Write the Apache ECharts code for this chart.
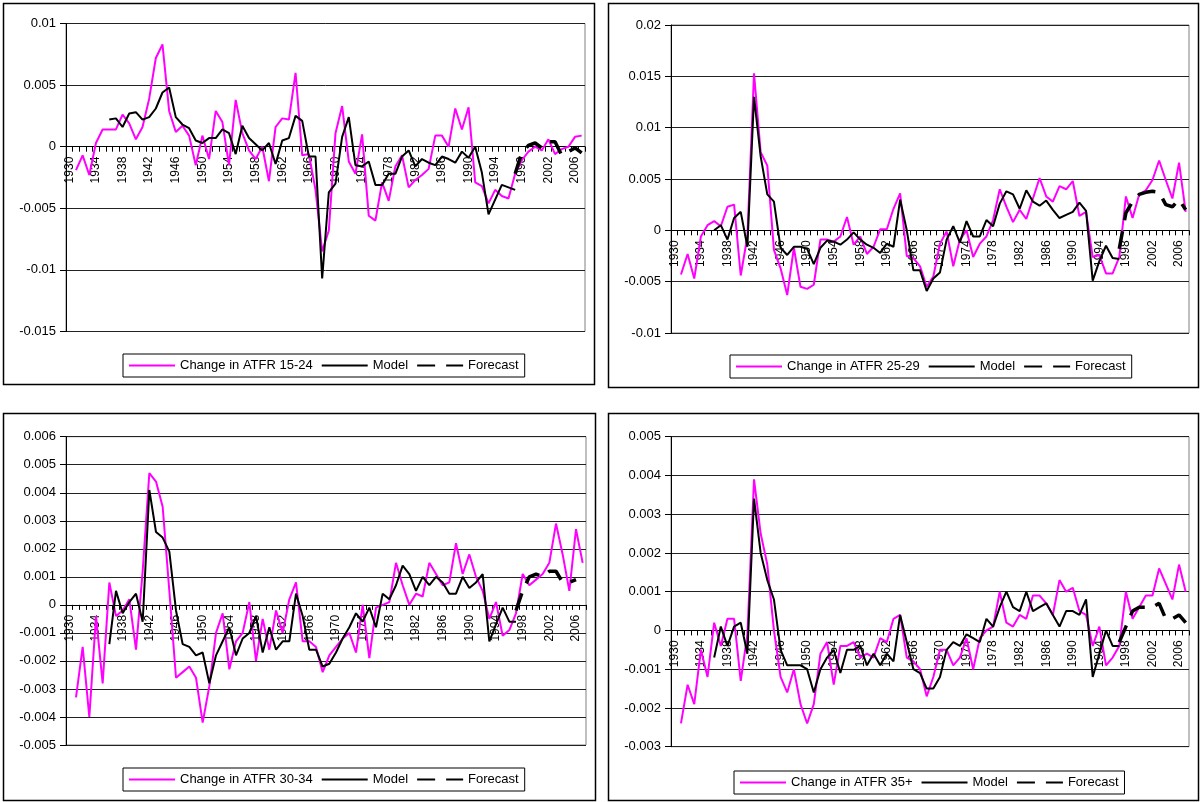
<!DOCTYPE html>
<html>
<head>
<meta charset="utf-8">
<script src="https://cdn.jsdelivr.net/npm/echarts@6/dist/echarts.min.js"></script>
<style>
  html, body { margin: 0; padding: 0; background: #fff; }
  #chart { width: 1201px; height: 802px; }
</style>
</head>
<body>
<div id="chart"></div>
<script>
// Years on the category axis
const years = [
  1930,1931,1932,1933,1934,1935,1936,1937,1938,1939,
  1940,1941,1942,1943,1944,1945,1946,1947,1948,1949,
  1950,1951,1952,1953,1954,1955,1956,1957,1958,1959,
  1960,1961,1962,1963,1964,1965,1966,1967,1968,1969,
  1970,1971,1972,1973,1974,1975,1976,1977,1978,1979,
  1980,1981,1982,1983,1984,1985,1986,1987,1988,1989,
  1990,1991,1992,1993,1994,1995,1996,1997,1998,1999,
  2000,2001,2002,2003,2004,2005,2006,2007
];

// Observed change in ATFR, 1931-2007
const change1524 = [
  -0.0019,-0.0007,-0.0023,0.0003,0.0014,0.0014,0.0014,0.0026,0.0019,
  0.0006,0.0016,0.0039,0.0072,0.0083,0.0029,0.0012,0.0017,0.0009,-0.0015,
  0.0009,-0.001,0.0029,0.002,-0.0015,0.0038,0.0011,-0.0003,-0.001,0,
  -0.0028,0.0016,0.0023,0.0022,0.006,-0.0007,-0.0006,-0.0035,-0.0085,-0.0068,
  0.0011,0.0033,-0.0012,-0.0022,0.001,-0.0056,-0.006,-0.0029,-0.0044,-0.0016,
  -0.0007,-0.0033,-0.0027,-0.0023,-0.0018,0.0009,0.0009,0,0.0031,0.0014,
  0.0032,-0.0029,-0.0032,-0.0046,-0.0035,-0.004,-0.0042,-0.0022,-0.0011,-0.0004,
  0,-0.0003,0.0006,-0.0006,-0.0002,0,0.0008,0.0009
];
const change2529 = [
  -0.0043,-0.0023,-0.0047,-0.0006,0.0005,0.0009,0.0004,0.0023,0.0025,
  -0.0044,-0.0006,0.0153,0.0076,0.0063,-0.0019,-0.0037,-0.0063,-0.0017,-0.0055,
  -0.0057,-0.0053,-0.0009,-0.0009,-0.0011,-0.0006,0.0013,-0.0014,-0.0006,-0.0023,
  -0.0016,0.0001,0.0001,0.0021,0.0036,-0.0025,-0.0027,-0.0035,-0.0055,-0.0045,
  -0.0013,-0.0001,-0.0035,-0.0009,0,-0.0026,-0.0013,-0.0006,0.001,0.004,
  0.0023,0.0008,0.002,0.0011,0.0031,0.0051,0.0033,0.0028,0.0043,0.004,
  0.0048,0.0014,0.0018,-0.0026,-0.0024,-0.0042,-0.0042,-0.0026,0.0033,0.0012,
  0.0035,0.0039,0.0049,0.0068,0.0049,0.0031,0.0066,0.0018
];
const change3034 = [
  -0.0033,-0.0015,-0.004,-0.0004,-0.0028,0.0008,-0.0004,-0.0002,0.0002,
  -0.0016,0.0012,0.0047,0.0044,0.0035,0.0005,-0.0026,-0.0024,-0.0022,-0.0026,
  -0.0042,-0.0029,-0.001,-0.0003,-0.0023,-0.0013,-0.001,0.0001,-0.002,-0.0005,
  -0.0016,-0.0002,-0.001,0.0002,0.0008,-0.0013,-0.0013,-0.0015,-0.0024,-0.0018,
  -0.0015,-0.0012,-0.001,-0.0017,0,-0.0019,-0.0001,0,0.0001,0.0015,
  0.0007,0,0.0004,0.0003,0.0015,0.0011,0.0007,0.0008,0.0022,0.0011,
  0.0018,0.001,0.0005,-0.0005,0.0001,-0.0011,-0.0009,-0.0003,0.0011,0.0007,
  0.0009,0.0011,0.0015,0.0029,0.0018,0.0005,0.0027,0.0015
];
const change35 = [
  -0.0024,-0.0014,-0.0019,-0.0005,-0.0012,0.0002,-0.0004,0.0003,0.0003,
  -0.0013,-0.0001,0.0039,0.0025,0.0017,0,-0.0012,-0.0016,-0.001,-0.0019,
  -0.0024,-0.0019,-0.0006,-0.0003,-0.0014,-0.0004,-0.0004,-0.0003,-0.0007,-0.0006,
  -0.0007,-0.0002,-0.0003,0.0003,0.0004,-0.0007,-0.0008,-0.001,-0.0017,-0.0012,
  -0.0005,-0.0005,-0.0009,-0.0007,-0.0002,-0.001,-0.0002,0,0.0001,0.001,
  0.0002,0.0001,0.0004,0.0003,0.0009,0.0009,0.0007,0.0004,0.0013,0.001,
  0.0011,0.0005,0.0004,-0.0004,0.0001,-0.0009,-0.0007,-0.0004,0.001,0.0003,
  0.0006,0.0009,0.0009,0.0016,0.0012,0.0008,0.0017,0.001
];

// Model fit, 1936-1997
const model1524 = [
  0.0022,0.0023,0.0016,0.0027,0.0028,0.0022,0.0024,0.0031,0.0044,0.0048,
  0.0024,0.0018,0.0015,0.0005,0.0003,0.0007,0.0007,0.0014,0.0011,-0.0006,
  0.0017,0.0007,0.0002,-0.0003,0.0003,-0.0014,0.0005,0.0007,0.0025,0.0021,
  -0.0008,-0.0008,-0.0107,-0.0037,-0.003,0.0008,0.0024,-0.0015,-0.0016,-0.0012,
  -0.0031,-0.0031,-0.0022,-0.0022,-0.0008,-0.0003,-0.0016,-0.001,-0.0013,-0.0015,
  -0.0008,-0.001,-0.0013,-0.0004,-0.0009,0,-0.0021,-0.0055,-0.0043,-0.0031,
  -0.0033,-0.0035
];
const model2529 = [
  0,0.0005,-0.0009,0.0012,0.0018,-0.0016,0.013,0.0072,0.0035,0.0028,
  -0.0017,-0.0024,-0.0016,-0.0016,-0.0018,-0.0033,-0.0017,-0.001,-0.0011,-0.0014,
  -0.0009,-0.0002,-0.0009,-0.0014,-0.0017,-0.0022,-0.0013,-0.0016,0.003,0,
  -0.0039,-0.0039,-0.0059,-0.0047,-0.0041,-0.0009,0.0004,-0.0012,0.0009,-0.0006,
  -0.0006,0.001,0.0004,0.0026,0.0038,0.0035,0.0021,0.0039,0.0028,0.0024,
  0.0029,0.002,0.0012,0.0015,0.0018,0.0027,0.0019,-0.0049,-0.003,-0.0015,
  -0.0027,-0.0028
];
const model3034 = [
  -0.0014,0.0005,-0.0003,0.0001,0.0004,-0.0006,0.0041,0.0026,0.0024,0.0019,
  -0.0002,-0.0014,-0.0015,-0.0018,-0.0017,-0.0028,-0.0018,-0.0013,-0.0008,-0.0018,
  -0.0012,-0.001,-0.0004,-0.0017,-0.0008,-0.0016,-0.0013,-0.0013,0.0004,-0.0004,
  -0.0016,-0.0016,-0.0022,-0.0021,-0.0017,-0.0012,-0.0008,-0.0003,-0.0006,-0.0001,
  -0.0008,0.0004,0.0002,0.0007,0.0014,0.0011,0.0005,0.001,0.0007,0.001,
  0.0008,0.0004,0.0004,0.001,0.0006,0.0008,0.0011,-0.0013,-0.0007,-0.0001,
  -0.0006,-0.0006
];
const model35 = [
  -0.0007,0.0001,-0.0004,0.0001,0.0002,-0.0006,0.0034,0.002,0.0013,0.0008,
  -0.0005,-0.0009,-0.0009,-0.0009,-0.001,-0.0016,-0.001,-0.0007,-0.0005,-0.0011,
  -0.0005,-0.0005,-0.0004,-0.0009,-0.0006,-0.0009,-0.0006,-0.0008,0.0004,-0.0003,
  -0.001,-0.0011,-0.0015,-0.0015,-0.0012,-0.0005,-0.0003,-0.0004,-0.0001,-0.0002,
  -0.0003,0.0003,0.0001,0.0006,0.001,0.0006,0.0005,0.001,0.0005,0.0006,
  0.0007,0.0004,0.0001,0.0005,0.0005,0.0004,0.0008,-0.0012,-0.0006,0,
  -0.0004,-0.0004
];

// Forecasts from 1997 onward
const forecast1524 = [-0.0022,-0.0005,0.0001,0.0003,-0.0001,0.0004,0.0004,-0.0007,-0.0004,-0.0001,-0.0005];
const forecast2529 = [-0.0018,0.0017,0.0028,0.0035,0.0037,0.0038,0.0037,0.0025,0.0023,0.003,0.002];
const forecast3034 = [-0.0002,0.0005,0.001,0.0011,0.001,0.0012,0.0012,0.0008,0.0008,0.0009];
const forecast35 = [-0.0003,0.0001,0.0005,0.0006,0.0006,0.0006,0.0007,0.0003,0.0003,0.0004,0.0002];

// Series start years
const changeStart = 1931, modelStart = 1936, forecastStart = 1997;

// Per-panel value-axis ranges
const panels = [
  { label: 'Change in ATFR 15-24', change: change1524, model: model1524, forecast: forecast1524,
    min: -0.015, max: 0.01, step: 0.005,
    grid: { left: 66, top: 23.5, width: 519, height: 308 },
    legend: { left: 123, top: 354 }, box: [3, 3, 594, 384] },
  { label: 'Change in ATFR 25-29', change: change2529, model: model2529, forecast: forecast2529,
    min: -0.01, max: 0.02, step: 0.005,
    grid: { left: 671, top: 25, width: 518, height: 308 },
    legend: { left: 730, top: 355 }, box: [608, 3, 1198, 387] },
  { label: 'Change in ATFR 30-34', change: change3034, model: model3034, forecast: forecast3034,
    min: -0.005, max: 0.006, step: 0.001,
    grid: { left: 66, top: 436.7, width: 520, height: 308.3 },
    legend: { left: 123, top: 768 }, box: [3, 413, 595, 800] },
  { label: 'Change in ATFR 35+', change: change35, model: model35, forecast: forecast35,
    min: -0.003, max: 0.005, step: 0.001,
    grid: { left: 671, top: 436.7, width: 518, height: 310 },
    legend: { left: 734, top: 771 }, box: [608, 413, 1198, 800] }
];

function place(start, values) {
  return years.map(y => {
    const i = y - start;
    return (i >= 0 && i < values.length) ? values[i] : null;
  });
}

const FONT = 'Arial, "Liberation Sans", sans-serif';
const grids = [], xAxes = [], yAxes = [], series = [], legends = [], graphics = [];

panels.forEach((p, k) => {
  grids.push(Object.assign({ show: true, borderColor: '#808080', borderWidth: 1, backgroundColor: '#fff' }, p.grid));
  // year labels hang just below the zero line
  const zeroFromBottom = p.grid.height * (0 - p.min) / (p.max - p.min);
  xAxes.push({
    type: 'category', gridIndex: k, data: years, boundaryGap: true,
    axisLine: { onZero: true, lineStyle: { color: '#000', width: 1 } },
    axisTick: { show: true, interval: 0, length: 5, lineStyle: { color: '#000' } },
    axisLabel: { interval: 3, rotate: 90, margin: 10 - zeroFromBottom, fontSize: 12, color: '#000', fontFamily: FONT },
    splitLine: { show: false }
  });
  yAxes.push({
    type: 'value', gridIndex: k, min: p.min, max: p.max, interval: p.step,
    axisLine: { show: true, lineStyle: { color: '#000', width: 1 } },
    axisTick: { show: true, length: 6, lineStyle: { color: '#000' } },
    axisLabel: { margin: 10, fontSize: 13, color: '#000', fontFamily: FONT,
      formatter: v => { const r = +v.toFixed(4); return r === 0 ? '0' : String(r); } },
    splitLine: { show: true, lineStyle: { color: '#222', width: 1 } }
  });
  series.push({
    name: p.label, type: 'line', xAxisIndex: k, yAxisIndex: k,
    data: place(changeStart, p.change), symbol: 'none', z: 2,
    lineStyle: { color: '#ff00ff', width: 2 }, itemStyle: { color: '#ff00ff' }
  });
  series.push({
    name: 'Model', type: 'line', xAxisIndex: k, yAxisIndex: k,
    data: place(modelStart, p.model), symbol: 'none', z: 3,
    lineStyle: { color: '#000', width: 2 }, itemStyle: { color: '#000' }
  });
  series.push({
    name: 'Forecast', type: 'line', xAxisIndex: k, yAxisIndex: k,
    data: place(forecastStart, p.forecast), symbol: 'none', z: 4,
    lineStyle: { color: '#000', width: 3.5, type: [18, 11] }, itemStyle: { color: '#000' }
  });
  legends.push({
    left: p.legend.left, top: p.legend.top, orient: 'horizontal',
    data: [p.label, 'Model', 'Forecast'],
    selectedMode: false,
    backgroundColor: '#fff', borderColor: '#000', borderWidth: 1,
    padding: [5, 6, 5, 5], itemGap: 8, itemWidth: 46, itemHeight: 10,
    itemStyle: { opacity: 0 },
    textStyle: { fontSize: 13, color: '#000', fontFamily: FONT }
  });
  const b = p.box;
  graphics.push({
    type: 'rect', z: -10, silent: true,
    shape: { x: b[0] + 0.5, y: b[1] + 0.5, width: b[2] - b[0], height: b[3] - b[1] },
    style: { fill: 'none', stroke: '#000', lineWidth: 1.5 }
  });
});

const chart = echarts.init(document.getElementById('chart'), null, { renderer: 'canvas' });
chart.setOption({
  animation: false,
  backgroundColor: '#fff',
  grid: grids, xAxis: xAxes, yAxis: yAxes, series: series, legend: legends,
  graphic: graphics
});
</script>
</body>
</html>
